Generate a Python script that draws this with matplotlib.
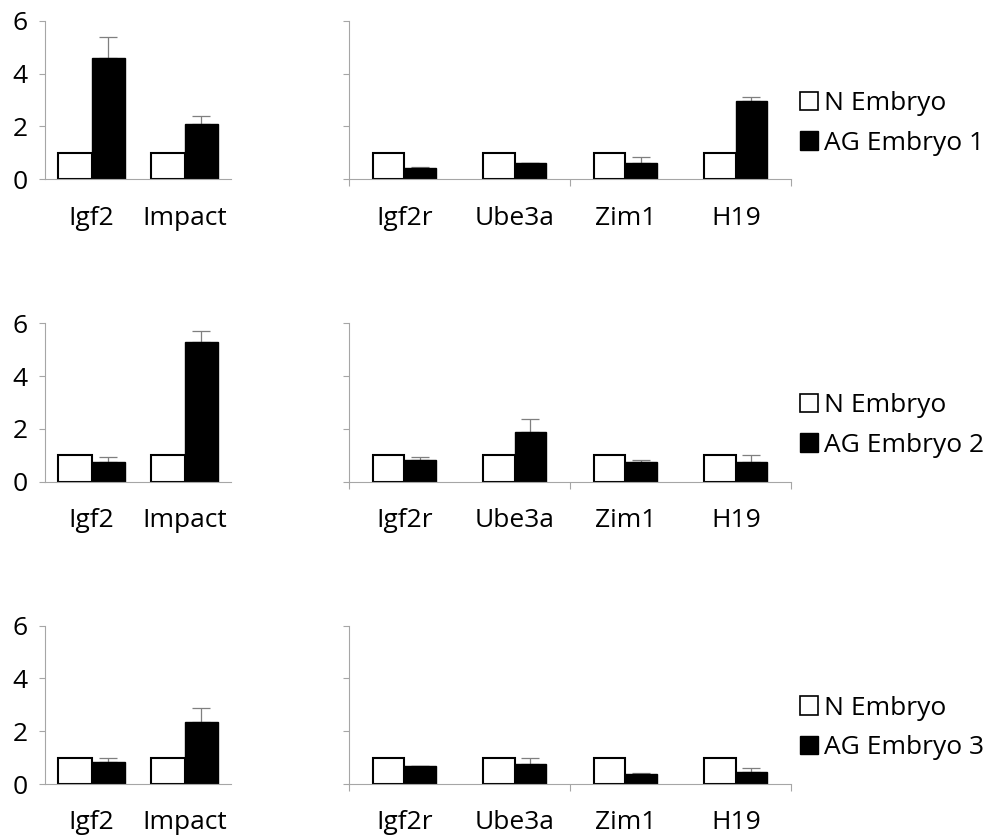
import numpy as np
import matplotlib
matplotlib.use('Agg')
import matplotlib.pyplot as plt
from matplotlib.patches import Patch

plt.rcParams['font.family'] = ['Open Sans', 'DejaVu Sans']
plt.rcParams['font.size'] = 19

# 遺伝子名
genes_left = ['Igf2', 'Impact']
genes_right = ['Igf2r', 'Ube3a', 'Zim1', 'H19']

# N Embryo は全て 1 に規格化
n_left = [1.0, 1.0]
n_right = [1.0, 1.0, 1.0, 1.0]

# AG Embryo 1-3 の値と誤差
ag1_left = [4.6, 2.1]
ag1_left_err = [0.78, 0.30]
ag1_right = [0.44, 0.60, 0.60, 2.95]
ag1_right_err = [0.02, 0.02, 0.24, 0.16]

ag2_left = [0.75, 5.30]
ag2_left_err = [0.17, 0.41]
ag2_right = [0.82, 1.89, 0.75, 0.75]
ag2_right_err = [0.10, 0.48, 0.08, 0.25]

ag3_left = [0.82, 2.34]
ag3_left_err = [0.17, 0.55]
ag3_right = [0.68, 0.76, 0.38, 0.45]
ag3_right_err = [0.02, 0.23, 0.02, 0.17]

rows = [
    (ag1_left, ag1_left_err, ag1_right, ag1_right_err, 'AG Embryo 1'),
    (ag2_left, ag2_left_err, ag2_right, ag2_right_err, 'AG Embryo 2'),
    (ag3_left, ag3_left_err, ag3_right, ag3_right_err, 'AG Embryo 3'),
]

W, H = 983, 839
fig = plt.figure(figsize=(W / 100, H / 100), dpi=100)

# 各行の軸位置 (ピクセル: y6, y0)
row_px = [(20.7, 179.3), (323.3, 481.7), (625.7, 784.0)]
legend_y = [123.5, 425.3, 727.8]
axis_col = '#a6a6a6'
err_col = '#7f7f7f'


def draw_panel(ax, genes, n_vals, ag_vals, ag_err, width, show_ylabels, boundary_ticks):
    x = np.arange(len(genes))
    ax.bar(x - width / 2, n_vals, width, color='white', edgecolor='black', linewidth=1.5, zorder=2)
    ax.bar(x + width / 2, ag_vals, width, color='black', edgecolor='black', linewidth=1.0, zorder=2)
    ax.errorbar(x + width / 2, ag_vals, yerr=[np.zeros(len(genes)), ag_err], fmt='none',
                ecolor=err_col, elinewidth=0.9, capsize=6.5, capthick=0.9, zorder=1)
    ax.set_xlim(-0.5, len(genes) - 0.5)
    ax.set_ylim(0, 6)
    ax.set_yticks([0, 2, 4, 6])
    ax.set_xticks(x)
    ax.set_xticklabels(genes)
    ax.tick_params(axis='x', length=0, pad=19)
    ax.tick_params(axis='y', length=4.5, width=0.8, color=axis_col, pad=8)
    if not show_ylabels:
        ax.set_yticklabels([])
    if boundary_ticks:
        ax.set_xticks(np.arange(-0.5, len(genes), 2), minor=True)
        ax.tick_params(axis='x', which='minor', length=5, width=0.8, color=axis_col)
    for side in ['top', 'right']:
        ax.spines[side].set_visible(False)
    for side in ['left', 'bottom']:
        ax.spines[side].set_color(axis_col)
        ax.spines[side].set_linewidth(0.8)
    ax.set_facecolor('none')


for i, (agl, agl_e, agr, agr_e, label) in enumerate(rows):
    y6, y0 = row_px[i]
    bottom = 1 - y0 / H
    height = (y0 - y6) / H
    ax_l = fig.add_axes([45 / W, bottom, 186 / W, height])
    ax_r = fig.add_axes([349 / W, bottom, 442 / W, height])
    draw_panel(ax_l, genes_left, n_left, agl, agl_e, 0.355, True, False)
    draw_panel(ax_r, genes_right, n_right, agr, agr_e, 0.285, False, True)

    handles = [Patch(facecolor='white', edgecolor='black', linewidth=1.2, label='N Embryo'),
               Patch(facecolor='black', edgecolor='black', label=label)]
    fig.legend(handles=handles, loc='center left', bbox_to_anchor=(800 / W, 1 - legend_y[i] / H),
               frameon=False, borderpad=0, borderaxespad=0, handlelength=0.7, handleheight=0.7,
               handletextpad=0.2, labelspacing=0.55, fontsize=19)

fig.savefig('out.png', dpi=100)
